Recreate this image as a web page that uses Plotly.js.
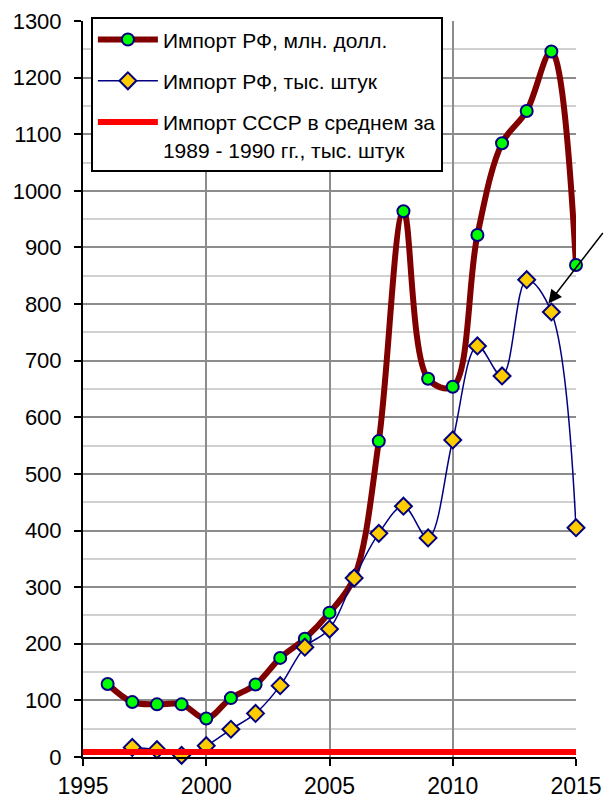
<!DOCTYPE html>
<html>
<head>
<meta charset="utf-8">
<script src="https://cdn.plot.ly/plotly-3.0.1.min.js"></script>
<style>html,body{margin:0;padding:0;background:#fff;}#chart{width:604px;height:798px;}</style>
</head>
<body>
<div id="chart"></div>
<script>
// Data
var yearsUsd = [1996, 1997, 1998, 1999, 2000, 2001, 2002, 2003, 2004, 2005, 2006, 2007, 2008, 2009, 2010, 2011, 2012, 2013, 2014, 2015];
var importUsd = [129, 97, 93, 93, 68, 104, 128, 175, 209, 255, 317, 558, 964, 668, 654, 922, 1084, 1141, 1246, 869];
var yearsUnits = [1997, 1998, 1999, 2000, 2001, 2002, 2003, 2004, 2005, 2006, 2007, 2008, 2009, 2010, 2011, 2012, 2013, 2014, 2015];
var importUnits = [17, 13, 3, 20, 49, 77, 126, 194, 226, 316, 395, 443, 387, 560, 726, 673, 843, 786, 405];
var yearsUssr = [1995, 2015];
var importUssr = [9, 9];
var seriesNames = ["Импорт РФ, млн. долл.", "Импорт РФ, тыс. штук", "Импорт СССР в среднем за<br>1989 - 1990 гг., тыс. штук"];
var arrowTarget = {year: 2013.88, value: 801};

var traces = [
  {x: yearsUsd, y: importUsd, name: seriesNames[0], type: 'scatter', mode: 'lines+markers',
   legendgroup: 'a', cliponaxis: false,
   line: {color: '#800000', width: 6, shape: 'spline', smoothing: 1},
   marker: {symbol: 'circle', size: 12, color: '#00ff00', line: {color: '#000080', width: 2}}},
  {x: yearsUnits, y: importUnits, name: seriesNames[1], type: 'scatter', mode: 'lines+markers',
   legendgroup: 'b', cliponaxis: false,
   line: {color: '#000080', width: 1.5, shape: 'spline', smoothing: 1},
   marker: {symbol: 'diamond', size: 13, color: '#ffcc00', line: {color: '#000080', width: 2}}},
  {x: yearsUssr, y: importUssr, name: seriesNames[2], type: 'scatter', mode: 'lines',
   legendgroup: 'c', cliponaxis: false,
   line: {color: '#ff0000', width: 6}}
];

var layout = {
  width: 604, height: 798,
  margin: {l: 83, r: 28, t: 21, b: 41, pad: 0},
  paper_bgcolor: '#ffffff', plot_bgcolor: '#ffffff',
  font: {family: 'Arial, "Liberation Sans", sans-serif', color: '#000000'},
  showlegend: true,
  legend: {
    x: 0.016, xanchor: 'left', y: 1.005, yanchor: 'top',
    bgcolor: '#ffffff', bordercolor: '#000000', borderwidth: 2,
    font: {size: 21, family: 'Arial, "Liberation Sans", sans-serif', color: '#000000'},
    tracegroupgap: 11, traceorder: 'grouped', itemwidth: 60, valign: 'top'
  },
  xaxis: {
    range: [1995, 2015], dtick: 5, tick0: 1995,
    showgrid: true, gridcolor: '#8c8c8c', gridwidth: 2,
    showline: true, linecolor: '#000000', linewidth: 2,
    zeroline: false, ticks: 'outside', ticklen: 7, tickwidth: 2, tickcolor: '#000000',
    tickfont: {size: 23}
  },
  yaxis: {
    range: [0, 1300], dtick: 100, tick0: 0,
    showgrid: true, gridcolor: '#8c8c8c', gridwidth: 2,
    minor: {dtick: 50, showgrid: true, gridcolor: '#d0d0d0', gridwidth: 2},
    showline: true, linecolor: '#000000', linewidth: 2,
    zeroline: false, ticks: 'outside', ticklen: 7, tickwidth: 2, tickcolor: '#000000',
    tickfont: {size: 22}, ticklabelstandoff: 8
  },
  annotations: [{
    x: arrowTarget.year, y: arrowTarget.value, xref: 'x', yref: 'y',
    text: '', showarrow: true, arrowhead: 2, arrowsize: 1.8, arrowwidth: 1.5,
    arrowcolor: '#000000', ax: 60, ay: -72
  }]
};

Plotly.newPlot('chart', traces, layout, {displayModeBar: false, staticPlot: true});
</script>
</body>
</html>
